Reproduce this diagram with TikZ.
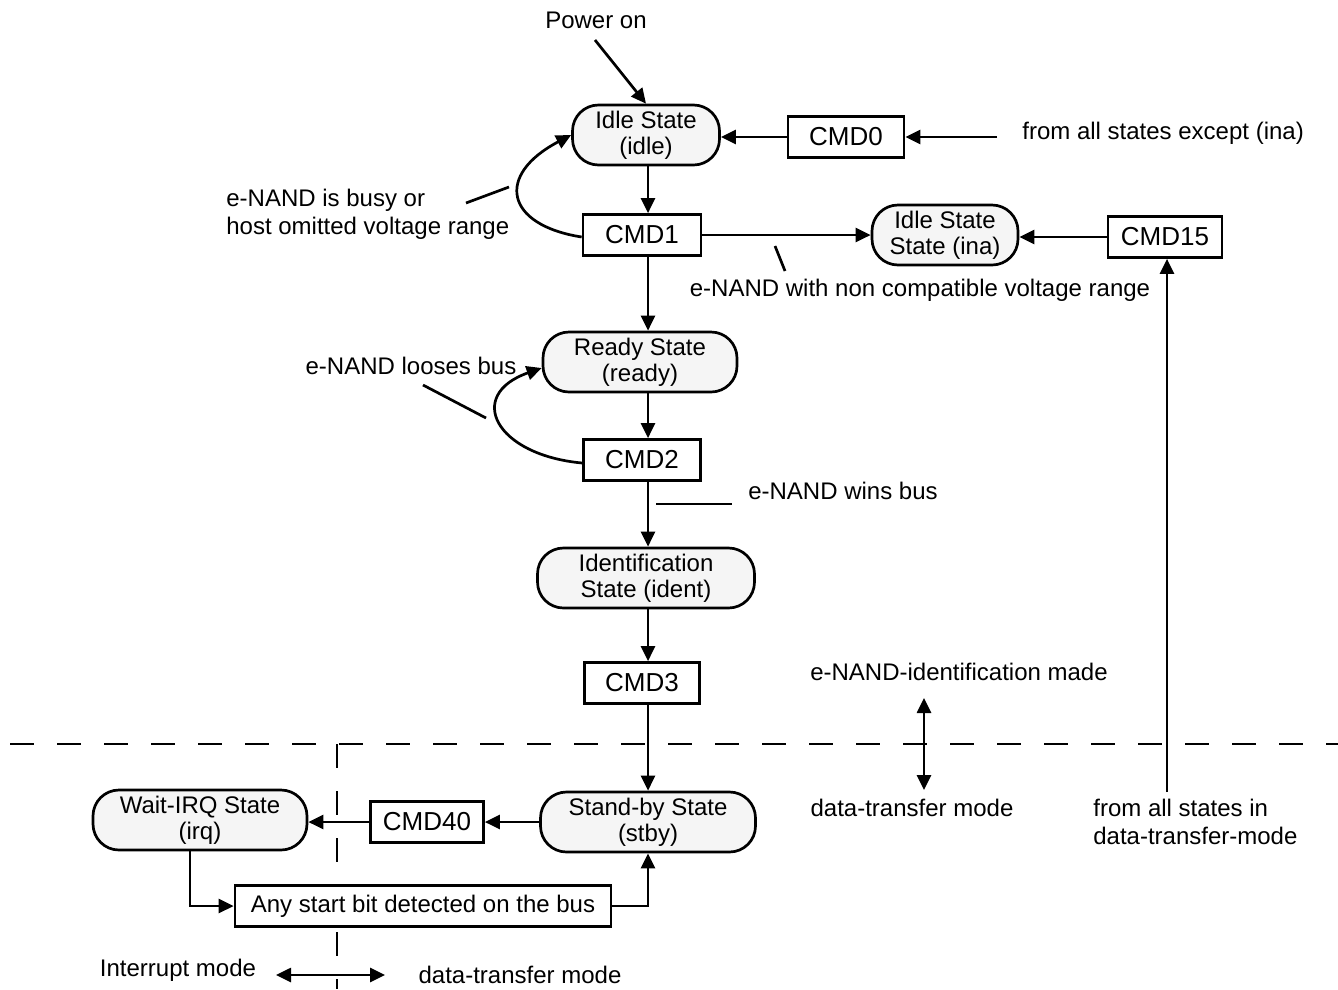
\documentclass[tikz,border=0pt]{standalone}
\usepackage{fontspec}
\setmainfont{Liberation Sans}
\usetikzlibrary{arrows.meta}
\begin{document}
\begin{tikzpicture}[x=1pt,y=-1pt,
  line width=2.7pt,
  >={Triangle[length=15pt,width=14pt]},
  state/.style={draw, fill=black!4, rounded corners=26pt, minimum width=#1, minimum height=60pt, align=center, font=\fontsize{24}{26}\selectfont, inner sep=0pt},
  cmd/.style={draw, fill=white, minimum height=41pt, inner sep=0pt, font=\fontsize{26}{30}\selectfont},
  lbl/.style={font=\fontsize{24}{28}\selectfont, align=left, inner sep=0pt},
  leader/.style={line width=2.7pt},
  divider/.style={line width=2.7pt, dash pattern=on 24pt off 23pt},
]
\useasboundingbox (0,0) rectangle (1338,989);
\fill[white] (0,0) rectangle (1338,989);
% dividers
\draw[divider] (10,744) -- (1338,744);
\draw[divider] (337,744) -- (337,989);
% nodes
\node[lbl] (pwr) at (596,20) {Power on};
\node[state=147pt] (idle) at (646,135) {Idle State\\(idle)};
\node[cmd, minimum width=116pt] (cmd0) at (846,137) {CMD0};
\node[lbl, anchor=west] (all) at (1021,133) {from all states except (ina)};
\node[cmd, minimum width=118pt] (cmd1) at (642,235) {CMD1};
\node[lbl, anchor=west] (busy) at (225,214) {e-NAND is busy or\\host omitted voltage range};
\node[state=146pt] (ina) at (945,235) {Idle State\\State (ina)};
\node[cmd, minimum width=114pt] (cmd15) at (1165,237) {CMD15};
\node[lbl] (nc) at (920,290) {e-NAND with non compatible voltage range};
\node[state=194pt] (ready) at (640,362) {Ready State\\(ready)};
\node[lbl] (loose) at (411,366) {e-NAND looses bus};
\node[cmd, minimum width=117pt] (cmd2) at (642,460) {CMD2};
\node[lbl] (wins) at (843,491) {e-NAND wins bus};
\node[state=217pt] (ident) at (646,578) {Identification\\State (ident)};
\node[cmd, minimum width=115pt] (cmd3) at (642,683) {CMD3};
\node[lbl] (made) at (959,672) {e-NAND-identification made};
\node[state=215pt] (stby) at (648,822) {Stand-by State\\(stby)};
\node[lbl] (dtm1) at (912,808) {data-transfer mode};
\node[lbl, anchor=west] (fromdt) at (1092,822) {from all states in\\data-transfer-mode};
\node[cmd, minimum width=113pt] (cmd40) at (427,822) {CMD40};
\node[state=214pt] (irq) at (200,820) {Wait-IRQ State\\(irq)};
\node[cmd, minimum width=376pt, font=\fontsize{24}{28}\selectfont] (any) at (423,906) {Any start bit detected on the bus};
\node[lbl] (intm) at (178,970) {Interrupt mode};
\node[lbl] (dtm2) at (520,975) {data-transfer mode};
% helper coordinates
\coordinate (vx) at (648,0);
\coordinate (ix) at (190,0);
\coordinate (p0) at (595,40);
\coordinate (allin) at (997,137);
\coordinate (dtin) at (1167,792);
\coordinate (m1) at (924,698);
\coordinate (m2) at (924,790);
\coordinate (b1) at (276,975);
\coordinate (b2) at (385,975);
\coordinate (t1a) at (466,203);
\coordinate (t1b) at (509,187);
\coordinate (t2a) at (775,246);
\coordinate (t2b) at (785,271);
\coordinate (t3a) at (423,385);
\coordinate (t3b) at (486,418);
\coordinate (t4a) at (656,504);
\coordinate (t4b) at (732,504);
% connectors
\draw[->] (p0) -- (idle.north);
\draw[->] (cmd0.west) -- (cmd0.west -| idle.east);
\draw[->] (allin) -- (cmd0.east);
\draw[->] (idle.south -| vx) -- (cmd1.north -| vx);
\draw[->] ([yshift=-2pt]cmd1.west) .. controls (505,225) and (495,175) .. (idle.west);
\draw[->] (cmd1.east) -- (cmd1.east -| ina.west);
\draw[->] (cmd15.west) -- (cmd15.west -| ina.east);
\draw[->] (cmd1.south -| vx) -- (ready.north -| vx);
\draw[->] ([yshift=-3pt]cmd2.west) .. controls (495,455) and (465,395) .. ([yshift=-6pt]ready.west);
\draw[->] (ready.south -| vx) -- (cmd2.north -| vx);
\draw[->] (cmd2.south -| vx) -- (ident.north -| vx);
\draw[->] (ident.south -| vx) -- (cmd3.north -| vx);
\draw[->] (cmd3.south -| vx) -- (stby.north -| vx);
\draw[<->] (m1) -- (m2);
\draw[->] (dtin) -- (cmd15.south -| dtin);
\draw[->] (stby.west) -- (cmd40.east);
\draw[->] (cmd40.west) -- (cmd40.west -| irq.east);
\draw[->] (irq.south -| ix) |- (any.west);
\draw[->] (any.east) -| (stby.south -| vx);
\draw[<->] (b1) -- (b2);
% leaders
\draw[leader] (t1a) -- (t1b);
\draw[leader] (t2a) -- (t2b);
\draw[leader] (t3a) -- (t3b);
\draw[leader] (t4a) -- (t4b);
\end{tikzpicture}
\end{document}
